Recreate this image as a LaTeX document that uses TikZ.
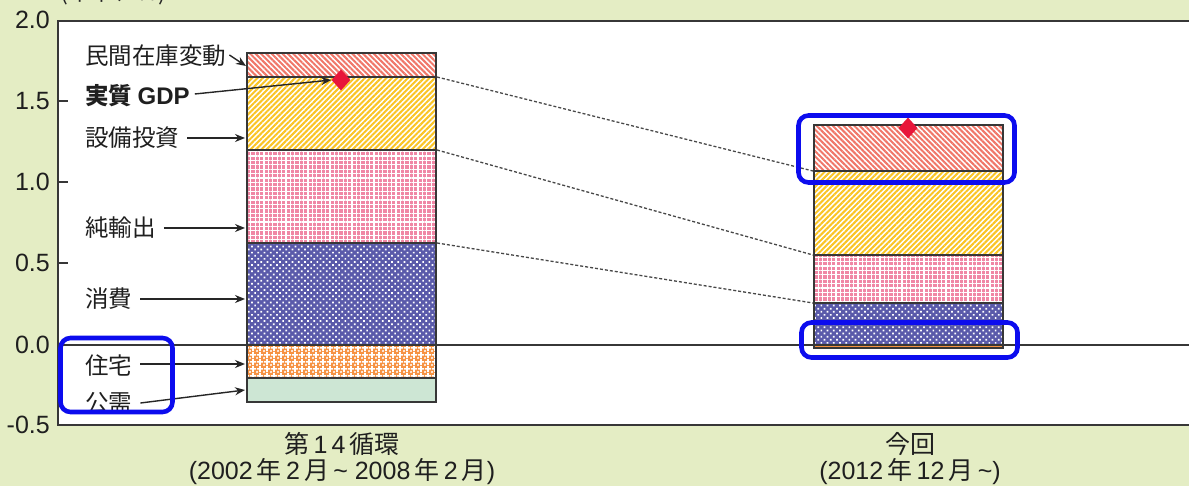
\documentclass[tikz,border=0pt]{standalone}
\usepackage{fontspec}
\setmainfont{Liberation Sans}
\newfontfamily\cjk{Noto Sans CJK JP}
\usetikzlibrary{patterns.meta,arrows.meta,shapes.geometric}
\definecolor{bgc}{RGB}{228,237,196}
\definecolor{axc}{RGB}{55,55,55}
\definecolor{redc}{RGB}{240,118,104}
\definecolor{yelc}{RGB}{250,196,36}
\definecolor{pinkc}{RGB}{240,135,165}
\definecolor{bluec}{RGB}{90,90,170}
\definecolor{orac}{RGB}{246,146,66}
\definecolor{grnc}{RGB}{205,230,212}
\definecolor{diac}{RGB}{232,22,58}
\definecolor{hlc}{RGB}{12,12,238}
\newcommand{\J}[1]{{\cjk #1}}
\tikzset{
  redbase/.style={fill=white},
  redpat/.style={pattern={Lines[angle=-45,distance=3.8pt,line width=2.0pt]},pattern color=redc},
  yelbase/.style={fill=white},
  yelpat/.style={pattern={Lines[angle=45,distance=3.8pt,line width=2.0pt]},pattern color=yelc},
  pinkbase/.style={fill=pinkc},
  pinkpat/.style={pattern={Hatch[angle=0,distance=4.4pt,line width=1.3pt]},pattern color=white},
  bluebase/.style={fill=bluec},
  bluepat/.style={pattern={Dots[distance=4.4pt,radius=1.2pt,angle=45]},pattern color=white},
  orabase/.style={fill=orac},
  orapat/.style={pattern={Hatch[angle=0,distance=6.5pt,line width=1.7pt]},pattern color=white},
  orapatb/.style={pattern={Dots[distance=6.5pt,radius=1.2pt,xshift=3.25pt,yshift=3.25pt]},pattern color=white},
  grnbase/.style={fill=grnc},
  barline/.style={draw=axc,line width=1.5pt},
  axline/.style={draw=axc,line width=1.5pt},
  lbl/.style={anchor=west,inner sep=0pt,font=\cjk\fontsize{23.5}{28}\selectfont,text=black!88},
  ylbl/.style={anchor=east,inner sep=0pt,font=\fontsize{25}{30}\selectfont,text=black!88},
  xlbl/.style={inner sep=0pt,font=\fontsize{25}{30}\selectfont,text=black!88},
  arr/.style={draw=black!85,line width=1.4pt,-{Stealth[length=10pt,width=8pt]}},
  dashln/.style={draw=black!72,line width=1.3pt,dash pattern=on 3pt off 2pt},
  hlbox/.style={draw=hlc,line width=4.6pt,rounded corners=10pt},
  gdpmark/.style={diamond,fill=diac,minimum width=19pt,minimum height=21pt,inner sep=0pt}
}
\begin{document}
\begin{tikzpicture}[x=1pt,y=-1pt]
\useasboundingbox (0,0) rectangle (1189,486);
\clip (0,0) rectangle (1189,486);
\fill[bgc] (0,0) rectangle (1189,486);
% plot area
\fill[white] (58,21) rectangle (1200,425);
\draw[axline] (1200,21) -- (58,21) -- (58,425) -- (1200,425);
% ticks
\draw[axline] (58,101) -- (68,101);
\draw[axline] (58,182) -- (68,182);
\draw[axline] (58,263) -- (68,263);
% zero line
\draw[axline] (58,345) -- (1200,345);
% y labels
\node[ylbl] (y20) at (50,20) {2.0};
\node[ylbl] (y15) at (50,101) {1.5};
\node[ylbl] (y10) at (50,182) {1.0};
\node[ylbl] (y05) at (50,263) {0.5};
\node[ylbl] (y00) at (50,345) {0.0};
\node[ylbl] (ym05) at (50,425) {-0.5};
% unit label (cut off at top, as in the reference)
\node[anchor=base west,inner sep=0pt,font=\cjk\fontsize{23}{28}\selectfont,text=black!85] (unit) at (60,1) {(年率、\%)};
% ---- bar 1
\path[redbase] (247,53) rectangle (436,77);
\path[redpat] (247,53) rectangle (436,77);
\path[yelbase] (247,77) rectangle (436,150);
\path[yelpat] (247,77) rectangle (436,150);
\path[pinkbase] (247,150) rectangle (436,243);
\path[pinkpat] (247,150) rectangle (436,243);
\path[bluebase] (247,243) rectangle (436,345);
\path[bluepat] (247,243) rectangle (436,345);
\path[orabase] (247,345) rectangle (436,378);
\path[orapat] (247,345) rectangle (436,378);
\path[orapatb] (247,345) rectangle (436,378);
\path[grnbase] (247,378) rectangle (436,402);
\draw[barline] (247,53) rectangle (436,77);
\draw[barline] (247,77) rectangle (436,150);
\draw[barline] (247,150) rectangle (436,243);
\draw[barline] (247,243) rectangle (436,345);
\draw[barline] (247,345) rectangle (436,378);
\draw[barline] (247,378) rectangle (436,402);
% ---- bar 2
\path[redbase] (814,125) rectangle (1003,171);
\path[redpat] (814,125) rectangle (1003,171);
\path[yelbase] (814,171) rectangle (1003,255);
\path[yelpat] (814,171) rectangle (1003,255);
\path[pinkbase] (814,255) rectangle (1003,303);
\path[pinkpat] (814,255) rectangle (1003,303);
\path[bluebase] (814,303) rectangle (1003,345);
\path[bluepat] (814,303) rectangle (1003,345);
\path[orabase] (814,345) rectangle (1003,348);
\draw[barline] (814,125) rectangle (1003,171);
\draw[barline] (814,171) rectangle (1003,255);
\draw[barline] (814,255) rectangle (1003,303);
\draw[barline] (814,303) rectangle (1003,345);
\draw[barline] (814,345) rectangle (1003,348);
% dashed connectors
\coordinate (b1y) at (437,77);
\coordinate (b1p) at (437,150);
\coordinate (b1b) at (437,243);
\coordinate (b2y) at (813,171);
\coordinate (b2p) at (813,255);
\coordinate (b2b) at (813,303);
\draw[dashln] (b1y) -- (b2y);
\draw[dashln] (b1p) -- (b2p);
\draw[dashln] (b1b) -- (b2b);
% GDP markers
\node[gdpmark] (gdp1) at (341,80) {};
\node[gdpmark] (gdp2) at (908,128) {};
% labels
\node[lbl] (lminkan) at (85,56) {民間在庫変動};
\node[lbl,font=\cjk\bfseries\fontsize{23.5}{28}\selectfont] (lgdp) at (85,96) {実質 {\fontspec{Liberation Sans}\bfseries\fontsize{24}{28}\selectfont GDP}};
\node[lbl] (lsetsubi) at (85,138) {設備投資};
\node[lbl] (lyushutsu) at (85,228) {純輸出};
\node[lbl] (lshohi) at (85,299) {消費};
\node[lbl] (ljutaku) at (85,366) {住宅};
\node[lbl] (lkoju) at (85,403) {公需};
% arrow targets
\coordinate (tminkan) at (246,66);
\coordinate (tsetsubi) at (245,138);
\coordinate (tyushutsu) at (245,228);
\coordinate (tshohi) at (245,299);
\coordinate (tjutaku) at (245,364);
\coordinate (tkoju) at (245,390);
\draw[arr] ([xshift=3pt,yshift=1pt]lminkan.east) -- (tminkan);
\draw[arr] ([xshift=5pt,yshift=2pt]lgdp.east) -- (gdp1.west);
\draw[arr] ([xshift=8pt]lsetsubi.east) -- (tsetsubi);
\draw[arr] ([xshift=8pt]lyushutsu.east) -- (tyushutsu);
\draw[arr] ([xshift=8pt]lshohi.east) -- (tshohi);
\draw[arr] ([xshift=8pt,yshift=2pt]ljutaku.east) -- (tjutaku);
\draw[arr] ([xshift=8pt]lkoju.east) -- (tkoju);
% x labels
\node[xlbl] (x1a) at (342,444) {\J{第}\,1\,4\,\J{循環}};
\node[xlbl] (x1b) at (342,472) {(2002\,\J{年}\,2\,\J{月}\,\textasciitilde\ 2008\,\J{年}\,2\,\J{月})};
\node[xlbl] (x2a) at (910,444) {\J{今回}};
\node[xlbl] (x2b) at (910,472) {(2012\,\J{年}\,12\,\J{月}\,\textasciitilde)};
% highlight boxes
\draw[hlbox] (798.5,115.5) rectangle (1014.5,182.5);
\draw[hlbox] (801.5,322.5) rectangle (1017.5,357.5);
\draw[hlbox] (60.5,338) rectangle (172.5,412);
\end{tikzpicture}
\end{document}
